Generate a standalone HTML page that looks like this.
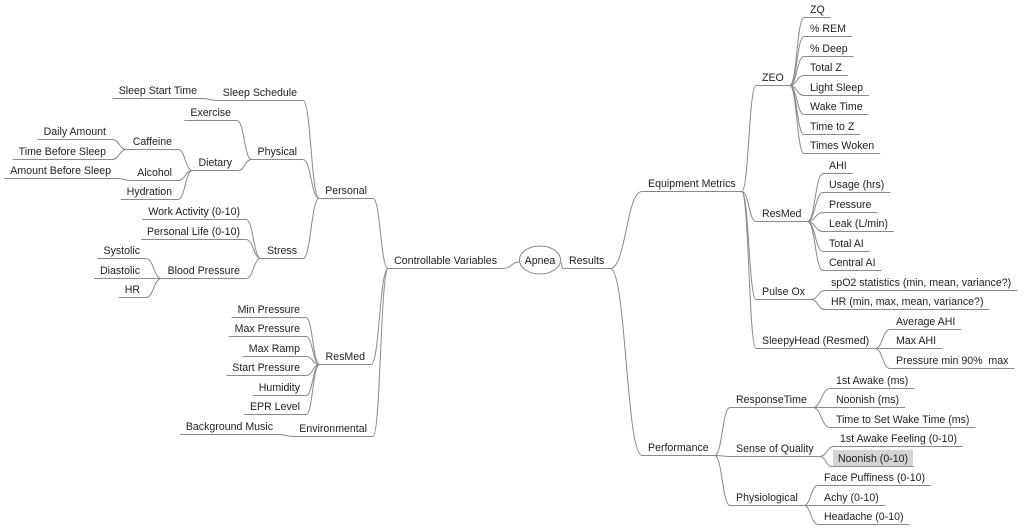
<!DOCTYPE html>
<html><head><meta charset="utf-8"><style>
html,body{margin:0;padding:0;background:#fff;}
svg{display:block;}
text{font-family:"Liberation Sans",Arial,sans-serif;font-size:10.6px;fill:#222;white-space:pre;}
</style></head><body>
<svg id="s" width="1024" height="528" xmlns="http://www.w3.org/2000/svg">
<rect x="833" y="450" width="80" height="17" fill="#d4d4d4"/>
<ellipse cx="540" cy="260" rx="20.5" ry="14" fill="#fff" stroke="#888" stroke-width="1"/>
<text x="540" y="264" text-anchor="middle">Apnea</text>
<g id="g"></g>
</svg>
<script>
var g=document.getElementById('g'),NS='http://www.w3.org/2000/svg';
function T(s,x,y,anchor){var t=document.createElementNS(NS,'text');t.setAttribute('x',x);t.setAttribute('y',y);t.setAttributeNS('http://www.w3.org/XML/1998/namespace','xml:space','preserve');if(anchor)t.setAttribute('text-anchor',anchor);t.textContent=s;g.appendChild(t);return t;}
function L(d){var p=document.createElementNS(NS,'path');p.setAttribute('d',d);p.setAttribute('fill','none');p.setAttribute('stroke','#8a8a8a');p.setAttribute('stroke-width','1');g.appendChild(p);}
function node(s,x,y,side){var t;var n={};
 if(side>0){t=T(s,x,y);var w=t.getComputedTextLength();n.x1=x-6;n.x2=x+w+6;}
 else{t=T(s,x,y,'end');var w=t.getComputedTextLength();n.x1=x-w-6;n.x2=x+6;}
 n.y=y+4.5;L('M'+n.x1+','+n.y+'H'+n.x2);return n;}
function C(x1,y1,x2,y2){var m=(x1+x2)/2;L('M'+x1+','+y1+'C'+m+','+y1+' '+m+','+y2+' '+x2+','+y2);}
function R(p,list){return list.map(function(c){var n=node(c[0],c[1],c[2],1);C(p.x2,p.y,n.x1,n.y);return n;});}
function Lf(p,list){return list.map(function(c){var n=node(c[0],c[1],c[2],-1);C(p.x1,p.y,n.x2,n.y);return n;});}
var res=node('Results',569,264,1);C(560.5,262,res.x1,res.y);
var r=R(res,[['Equipment Metrics',648,187],['Performance',648,451]]);
var eq=r[0],pf=r[1];
var e=R(eq,[['ZEO',762,81],['ResMed',762,217],['Pulse Ox',762,295],['SleepyHead (Resmed)',762,344]]);
R(e[0],[['ZQ',810,13],['% REM',810,32],['% Deep',810,52],['Total Z',810,71],['Light Sleep',810,91],['Wake Time',810,110],['Time to Z',810,130],['Times Woken',810,149]]);
R(e[1],[['AHI',829,169],['Usage (hrs)',829,188],['Pressure',829,208],['Leak (L/min)',829,227],['Total AI',829,247],['Central AI',829,266]]);
R(e[2],[['spO2 statistics (min, mean, variance?)',831,286],['HR (min, max, mean, variance?)',831,305]]);
R(e[3],[['Average AHI',896,325],['Max AHI',896,344],['Pressure min 90%  max',896,364]]);
var p=R(pf,[['ResponseTime',736,403],['Sense of Quality',736,452],['Physiological',736,501]]);
R(p[0],[['1st Awake (ms)',836,384],['Noonish (ms)',836,403],['Time to Set Wake Time (ms)',836,423]]);
R(p[1],[['1st Awake Feeling (0-10)',840,442],['Noonish (0-10)',838,462]]);
R(p[2],[['Face Puffiness (0-10)',824,481],['Achy (0-10)',824,501],['Headache (0-10)',824,520]]);
var cv=node('Controllable Variables',497,264,-1);C(519.5,262,cv.x2,cv.y);
var l=Lf(cv,[['Personal',367,194],['ResMed',365,360],['Environmental',367,432]]);
var pp=Lf(l[0],[['Sleep Schedule',297,96],['Physical',297,155],['Stress',297,254]]);
Lf(pp[0],[['Sleep Start Time',197,94]]);
var ph=Lf(pp[1],[['Exercise',231,116],['Dietary',232,166]]);
var dt=Lf(ph[1],[['Caffeine',172,145],['Alcohol',172,176],['Hydration',172,195]]);
Lf(dt[0],[['Daily Amount',106,135],['Time Before Sleep',106,155]]);
Lf(dt[1],[['Amount Before Sleep',111,174]]);
var st=Lf(pp[2],[['Work Activity (0-10)',240,215],['Personal Life (0-10)',240,235],['Blood Pressure',240,274]]);
Lf(st[2],[['Systolic',140,254],['Diastolic',140,274],['HR',140,293]]);
Lf(l[1],[['Min Pressure',300,313],['Max Pressure',300,332],['Max Ramp',300,352],['Start Pressure',300,371],['Humidity',300,391],['EPR Level',300,410]]);
Lf(l[2],[['Background Music',273,430]]);
</script>
</body></html>
